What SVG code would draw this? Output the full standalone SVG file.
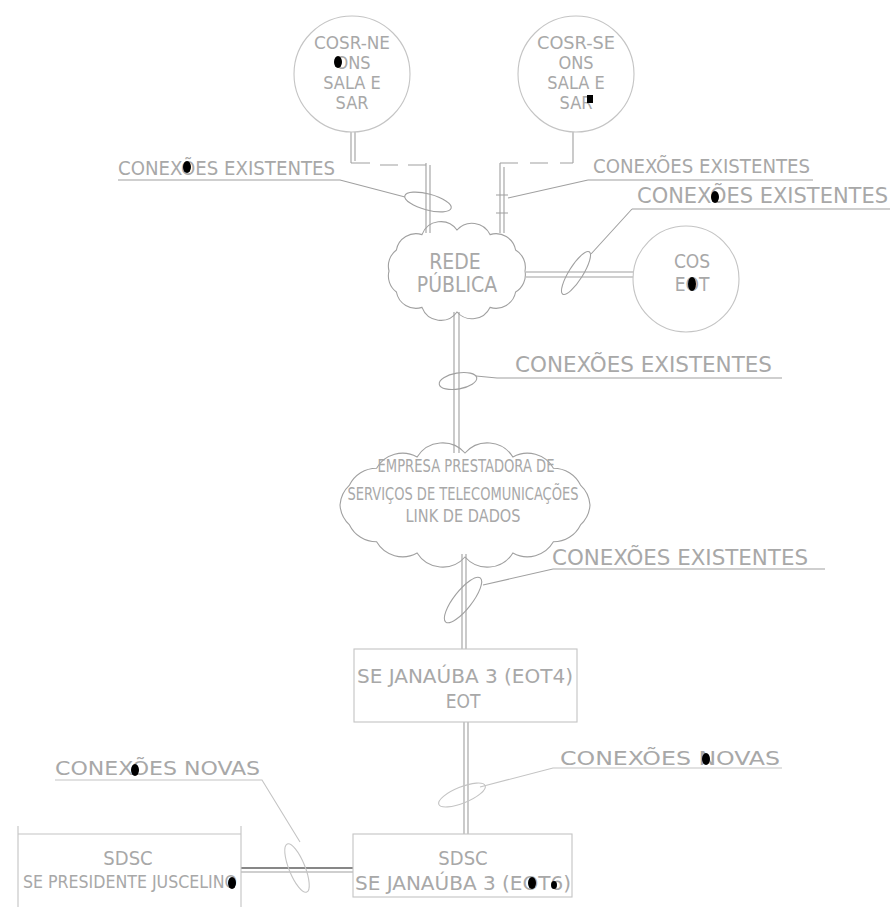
<svg xmlns="http://www.w3.org/2000/svg" width="894" height="907" viewBox="0 0 894 907">
<style>
  .bg{fill:#fff}
  .ln{fill:none;stroke:#a0a0a0;stroke-width:1.1}
  .lf{fill:none;stroke:#c4c4c4;stroke-width:1.1}
  .dk{fill:none;stroke:#111;stroke-width:1.2}
  text{font-family:"DejaVu Sans Condensed","DejaVu Sans","Liberation Sans",sans-serif;fill:#a8a8a8}
  .c{text-anchor:middle}
  .blob{fill:#000}
</style>
<rect class="bg" x="0" y="0" width="894" height="907"/>

<g id="connectors">
  <path class="ln" d="M351 132V163M355 132V161M351 163H370M380 165H398M408 165H426M426 163V233M430 165V233"/>
  <ellipse class="ln" cx="428" cy="202" rx="24" ry="8" transform="rotate(15 428 202)"/>
  <path class="ln" d="M118 180H340L405 197"/>
  <path class="ln" d="M573 132V163M573 163H560M548 163H530M518 163H500M500 163V233M504 167V233"/>
  <path class="ln" d="M496 195H508M496 213H508"/>
  <path class="ln" d="M588 180H813M588 180L508 198"/>
  <path class="ln" d="M526 272H633M526 277H633"/>
  <ellipse class="ln" cx="576" cy="273" rx="25" ry="7" transform="rotate(-58 576 273)"/>
  <path class="ln" d="M632 209H890M632 209L591 254"/>
  <path class="ln" d="M454 312V453M459 312V453"/>
  <ellipse class="ln" cx="458" cy="381" rx="19" ry="8" transform="rotate(-10 458 381)"/>
  <path class="ln" d="M476 376L497 378H782"/>
  <path class="ln" d="M462 554V649M466 554V649"/>
  <ellipse class="ln" cx="463" cy="600" rx="28" ry="9" transform="rotate(-52 463 600)"/>
  <path class="ln" d="M483 585L553 569H825"/>
  <path class="ln" d="M464 722V834M468 722V834"/>
  <ellipse class="lf" cx="462" cy="795" rx="25" ry="8" transform="rotate(-22 462 795)"/>
  <path class="lf" d="M480 787L553 768H782"/>
  <path class="dk" d="M241 868H353"/>
  <path class="ln" d="M241 872H353"/>
  <ellipse class="lf" cx="297" cy="868" rx="8" ry="26" transform="rotate(-22 297 868)"/>
  <path class="lf" d="M55 780H262L300 842"/>
</g>

<g id="cosr-ne">
  <circle class="lf" cx="352" cy="74" r="58"/>
  <text class="c" x="352" y="49" font-size="18" textLength="76" lengthAdjust="spacingAndGlyphs">COSR-NE</text>
  <text class="c" x="353" y="69" font-size="18">ONS</text>
  <text class="c" x="352" y="89" font-size="18">SALA E</text>
  <text class="c" x="352" y="109" font-size="18">SAR</text>
</g>

<g id="cosr-se">
  <circle class="lf" cx="576" cy="74" r="58"/>
  <text class="c" x="576" y="49" font-size="18" textLength="78" lengthAdjust="spacingAndGlyphs">COSR-SE</text>
  <text class="c" x="576" y="69" font-size="18">ONS</text>
  <text class="c" x="576" y="89" font-size="18">SALA E</text>
  <text class="c" x="576" y="109" font-size="18">SAR</text>
</g>

<g id="rede-publica">
  <path class="ln" d="M525 271A20 20 0 0 1 515.6 292A20 20 0 0 1 490 307.4A20 20 0 0 1 457 312A20 20 0 0 1 422 307.4A20 20 0 0 1 396.4 292A20 20 0 0 1 389 271A20 20 0 0 1 396.4 250A20 20 0 0 1 422 234.6A20 20 0 0 1 457 230A20 20 0 0 1 490 234.6A20 20 0 0 1 515.6 250A20 20 0 0 1 525 271Z"/>
  <text class="c" x="455" y="269" font-size="21">REDE</text>
  <text class="c" x="457" y="292" font-size="21">PÚBLICA</text>
</g>

<g id="cos">
  <circle class="lf" cx="686" cy="279" r="53"/>
  <text class="c" x="692" y="268" font-size="19">COS</text>
  <text class="c" x="692" y="291" font-size="19">EOT</text>
</g>

<g id="empresa">
  <path class="ln" d="M590 505A30 30 0 0 1 580.5 524.9A30 30 0 0 1 553.4 541.8A30 30 0 0 1 512.9 553A30 30 0 0 1 465 557A30 30 0 0 1 417.1 553A30 30 0 0 1 376.6 541.8A30 30 0 0 1 349.5 524.9A30 30 0 0 1 340 505A30 30 0 0 1 349.5 485.1A30 30 0 0 1 376.6 468.2A30 30 0 0 1 417.1 457A30 30 0 0 1 465 453A30 30 0 0 1 512.9 457A30 30 0 0 1 553.4 468.2A30 30 0 0 1 580.5 485.1A30 30 0 0 1 590 505Z"/>
  <text class="c" x="466" y="472" font-size="18" textLength="177" lengthAdjust="spacingAndGlyphs">EMPRESA PRESTADORA DE</text>
  <text class="c" x="463" y="500" font-size="18" textLength="231" lengthAdjust="spacingAndGlyphs">SERVIÇOS DE TELECOMUNICAÇÕES</text>
  <text class="c" x="463" y="522" font-size="18" textLength="115" lengthAdjust="spacingAndGlyphs">LINK DE DADOS</text>
</g>

<g id="janauba-eot4">
  <rect class="lf" x="354" y="649" width="223" height="73"/>
  <text class="c" x="465" y="683" font-size="19" textLength="216" lengthAdjust="spacingAndGlyphs">SE JANAÚBA 3 (EOT4)</text>
  <text class="c" x="463" y="708" font-size="19">EOT</text>
</g>

<g id="sdsc-janauba">
  <rect class="lf" x="353" y="834" width="219" height="63"/>
  <text class="c" x="463" y="865" font-size="20">SDSC</text>
  <text class="c" x="463" y="890" font-size="19" textLength="216" lengthAdjust="spacingAndGlyphs">SE JANAÚBA 3 (EOT6)</text>
</g>

<g id="sdsc-presidente">
  <path class="lf" d="M18 907V834H241V907M18 826V840M241 826V840"/>
  <text class="c" x="128" y="865" font-size="20">SDSC</text>
  <text class="c" x="130" y="888" font-size="18" textLength="214" lengthAdjust="spacingAndGlyphs">SE PRESIDENTE JUSCELINO</text>
</g>

<g id="labels">
  <text x="118" y="175" font-size="20" textLength="217" lengthAdjust="spacingAndGlyphs">CONEXÕES EXISTENTES</text>
  <text x="593" y="173" font-size="20" textLength="217" lengthAdjust="spacingAndGlyphs">CONEXÕES EXISTENTES</text>
  <text x="637" y="203" font-size="22" textLength="251" lengthAdjust="spacingAndGlyphs">CONEXÕES EXISTENTES</text>
  <text x="515" y="372" font-size="22" textLength="257" lengthAdjust="spacingAndGlyphs">CONEXÕES EXISTENTES</text>
  <text x="552" y="565" font-size="22" textLength="256" lengthAdjust="spacingAndGlyphs">CONEXÕES EXISTENTES</text>
  <text x="560" y="765" font-size="20" textLength="220" lengthAdjust="spacingAndGlyphs">CONEXÕES NOVAS</text>
  <text x="55" y="775" font-size="20" textLength="205" lengthAdjust="spacingAndGlyphs">CONEXÕES NOVAS</text>
</g>

<g id="marks">
  <ellipse class="blob" cx="338" cy="62" rx="4" ry="6"/>
  <rect class="blob" x="587" y="95" width="6" height="8"/>
  <ellipse class="blob" cx="692" cy="284" rx="4" ry="7"/>
  <ellipse class="blob" cx="187" cy="167" rx="4" ry="6"/>
  <ellipse class="blob" cx="715" cy="197" rx="4" ry="6"/>
  <ellipse class="blob" cx="135" cy="770" rx="4" ry="6"/>
  <ellipse class="blob" cx="232" cy="883" rx="4" ry="6"/>
  <ellipse class="blob" cx="532" cy="883" rx="4" ry="6"/>
  <ellipse class="blob" cx="554" cy="885" rx="3" ry="4"/>
  <ellipse class="blob" cx="706" cy="759" rx="4" ry="6"/>
</g>
</svg>
